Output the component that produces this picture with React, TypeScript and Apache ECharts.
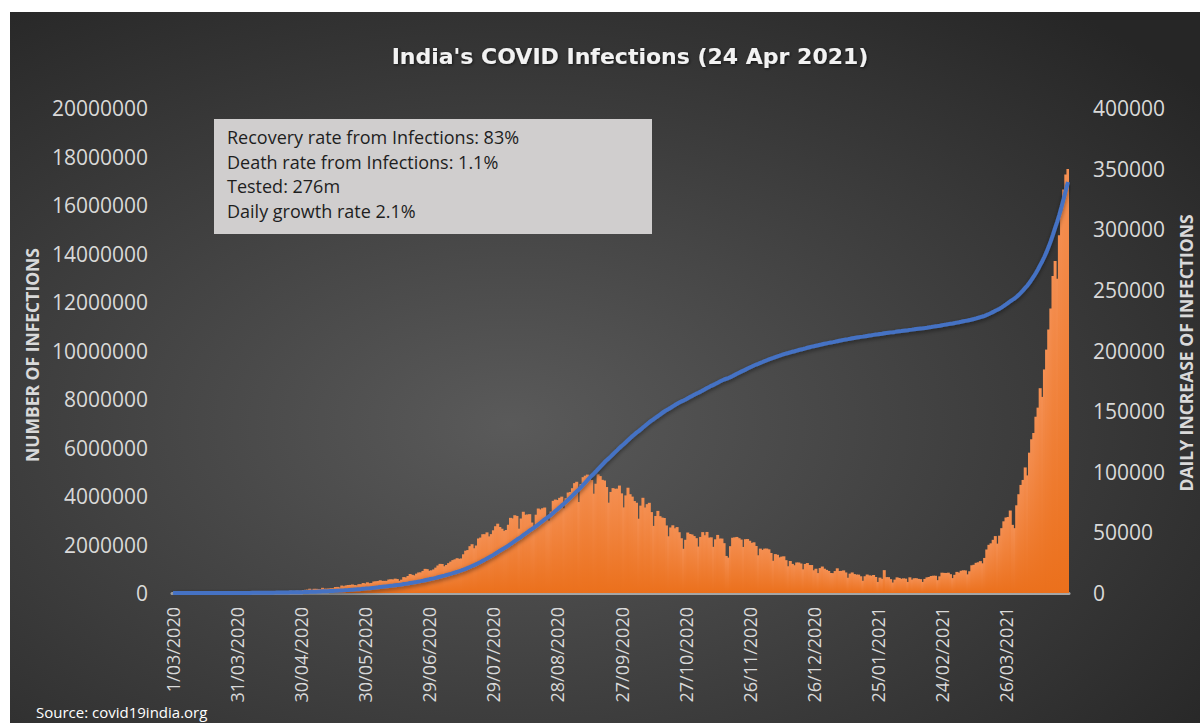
import React, { useEffect, useRef } from "react";
import * as echarts from "echarts";

// Daily new confirmed cases (right axis)
const mar2020 = [0,2,1,22,2,1,3,5,9,15,8,10,10,12,11,20,11,34,30,57,80,74,103,69,85,125,154,111,91,221,317];
const apr2020 = [601,556,543,612,664,472,584,590,809,873,770,759,1265,1061,938,1024,1080,1363,1513,1566,1250,1374,1653,1573,1832,1587,1563,1906,1706,1813];
const may2020 = [2411,2666,2806,3533,2590,3461,3446,3338,3118,4267,3550,3605,3725,3941,3903,4936,5013,4629,6138,5603,6214,6535,6667,6996,6547,6354,7252,7246,8210,7822,8788];
const jun2020 = [8055,8200,9486,9674,9868,10487,9983,9987,9996,11109,11320,11161,11820,11495,10039,11005,13106,12839,14026,15649,14992,14534,15950,16931,17003,18185,19907,19668,18356,18684];
const jul2020 = [19428,20918,22680,24018,23939,22060,23136,24620,25866,27116,27767,28698,28171,28497,31943,34884,35423,38627,40235,36919,39158,44965,45719,48472,48467,50007,46681,48564,51719,55078,57155];
const aug2020 = [54418,53015,51211,51976,56277,61983,61543,64142,63545,53045,61345,66995,64553,64732,65022,58100,55079,64572,69673,68900,69874,70488,61749,59696,67161,75995,77059,76665,78472,79468,69921];
const sep2020 = [78169,82860,83341,86432,90600,91723,75022,89852,95529,96760,97655,94409,93215,81911,90123,97859,96424,93337,92755,87382,74493,83347,86508,85919,86052,88600,82170,70589,80500,86821];
const oct2020 = [81484,79476,75829,74442,61267,72049,78524,70496,73272,74383,66732,55342,63509,67708,63371,62212,61871,55722,46790,54044,55839,53370,54366,50129,45148,36469,43893,49881,48648,48268,46964];
const nov2020 = [45231,38310,46254,50210,47638,50356,45674,45903,38073,44281,47905,44879,44878,41100,30548,29163,38617,45576,45882,46232,45209,44059,37975,44376,44489,43082,41322,41810,38772,31118];
const dec2020 = [36604,35551,36595,36652,36011,32981,26567,32080,31521,29398,30006,30254,27071,22065,26382,24010,22890,25153,25152,24337,19556,23950,24712,23067,23068,18732,20021,16432,20549,21822,20035];
const jan2021 = [19079,18177,16504,16375,18088,20346,18139,18222,18645,16946,12584,15968,16946,15590,15158,15144,13788,10064,13823,15223,14545,14256,14849,13203,9102,12689,11666,18855,13083,13052,11427];
const feb2021 = [8635,11039,12899,12408,11713,12059,11831,9110,12923,11067,12143,12194,11649,11426,9121,11610,12881,13193,13993,14264,14199,10584,13742,16738,16577,16488,16752,15510];
const mar2021 = [12286,14989,17407,16838,18327,18711,18599,15388,17921,22854,23285,24882,25320,26291,24492,28903,35871,39726,40953,43846,46951,40715,47262,53476,59118,62258,62714,68020,56211,53480,72330];
const apr2021 = [81466,89129,93249,103558,96982,115736,126789,131968,145384,152879,168912,161736,184372,200739,217353,234692,261500,273810,259170,295041,314835,332730,345147,349691];

const casesBeforeStart = 3;
const startDate = { year: 2020, month: 3, day: 1 };

const titleText = "India's COVID Infections (24 Apr 2021)";
const leftAxisName = "NUMBER OF INFECTIONS";
const rightAxisName = "DAILY INCREASE OF INFECTIONS";
const infoLines = [
  "Recovery rate from Infections: 83%",
  "Death rate from Infections: 1.1%",
  "Tested: 276m",
  "Daily growth rate 2.1%",
];
const sourceText = "Source: covid19india.org";

const daily = [
  ...mar2020, ...apr2020, ...may2020, ...jun2020, ...jul2020, ...aug2020, ...sep2020,
  ...oct2020, ...nov2020, ...dec2020, ...jan2021, ...feb2021, ...mar2021, ...apr2021,
];

// cumulative total = running sum of the daily counts
const cumulative: number[] = [];
{
  let total = casesBeforeStart;
  for (const d of daily) {
    total += d;
    cumulative.push(total);
  }
}

// date labels, one per day, format d/mm/yyyy
const categories: string[] = daily.map((_, i) => {
  const dt = new Date(Date.UTC(startDate.year, startDate.month - 1, startDate.day + i));
  const d = dt.getUTCDate();
  const m = String(dt.getUTCMonth() + 1).padStart(2, "0");
  return `${d}/${m}/${dt.getUTCFullYear()}`;
});

const FONT = "'Open Sans', 'Noto Sans', sans-serif";
const plain = (v: number) => String(v);

export default function App() {
  const ref = useRef<HTMLDivElement>(null);
  useEffect(() => {
    if (!ref.current) return;
    const chart = echarts.init(ref.current, undefined, { renderer: "svg" });
    chart.setOption({
      animation: false,
      backgroundColor: {
        type: "radial",
        x: 0.42,
        y: 0.58,
        r: 0.75,
        colorStops: [
          { offset: 0, color: "#5a5a5a" },
          { offset: 1, color: "#262626" },
        ],
      },
      grid: { left: 162, right: 131, top: 96, bottom: 130, containLabel: false },
      xAxis: {
        type: "category",
        data: categories,
        boundaryGap: true,
        axisLine: { show: true, lineStyle: { color: "#a6a6a6", width: 3 } },
        axisTick: { show: false },
        splitLine: { show: false },
        axisLabel: {
          interval: 29,
          rotate: 90,
          color: "#d9d9d9",
          fontSize: 18,
          fontFamily: FONT,
          margin: 14,
        },
      },
      yAxis: [
        {
          type: "value",
          min: 0,
          max: 20000000,
          interval: 2000000,
          splitLine: { show: false },
          axisLine: { show: false },
          axisTick: { show: false },
          axisLabel: { color: "#d9d9d9", fontSize: 21, fontFamily: FONT, margin: 24, formatter: plain },
        },
        {
          type: "value",
          position: "right",
          min: 0,
          max: 400000,
          interval: 50000,
          splitLine: { show: false },
          axisLine: { show: false },
          axisTick: { show: false },
          axisLabel: { color: "#d9d9d9", fontSize: 21, fontFamily: FONT, margin: 24, formatter: plain },
        },
      ],
      series: [
        {
          type: "bar",
          yAxisIndex: 1,
          data: daily,
          barWidth: 3,
          barGap: "-100%",
          itemStyle: {
            color: {
              type: "linear",
              x: 0,
              y: 0,
              x2: 0,
              y2: 1,
              colorStops: [
                { offset: 0, color: "#f48f52" },
                { offset: 1, color: "#eb701c" },
              ],
            },
          },
          z: 2,
        },
        {
          type: "line",
          yAxisIndex: 0,
          data: cumulative,
          showSymbol: false,
          symbol: "none",
          lineStyle: {
            color: "#4472c4",
            width: 4,
            shadowColor: "rgba(0,0,0,0.45)",
            shadowBlur: 4,
            shadowOffsetY: 2,
          },
          z: 3,
        },
      ],
      graphic: [
        {
          type: "text",
          x: 620,
          y: 44,
          style: {
            text: titleText,
            fill: "#f2f2f2",
            font: `bold 22px 'DejaVu Sans', sans-serif`,
            textAlign: "center",
            textVerticalAlign: "middle",
            align: "center",
            verticalAlign: "middle",
            textShadowColor: "rgba(0,0,0,0.6)",
            textShadowBlur: 3,
            textShadowOffsetX: 1,
            textShadowOffsetY: 1,
          },
        },
        {
          type: "rect",
          shape: { x: 204, y: 107, width: 438, height: 115 },
          style: { fill: "#d0cece" },
        },
        {
          type: "text",
          x: 217,
          y: 113,
          style: {
            text: infoLines.join("\n"),
            fill: "#1e1e1e",
            font: `18px ${FONT}`,
            lineHeight: 24.5,
            textAlign: "left",
            align: "left",
            textVerticalAlign: "top",
            verticalAlign: "top",
          },
        },
        {
          type: "text",
          x: 22,
          y: 343,
          rotation: Math.PI / 2,
          style: {
            text: leftAxisName,
            fill: "#d9d9d9",
            font: `bold 17.5px ${FONT}`,
            textAlign: "center",
            align: "center",
            textVerticalAlign: "middle",
            verticalAlign: "middle",
          },
        },
        {
          type: "text",
          x: 1176,
          y: 341,
          rotation: Math.PI / 2,
          style: {
            text: rightAxisName,
            fill: "#d9d9d9",
            font: `bold 17.5px ${FONT}`,
            textAlign: "center",
            align: "center",
            textVerticalAlign: "middle",
            verticalAlign: "middle",
          },
        },
        {
          type: "text",
          x: 26,
          y: 700,
          style: {
            text: sourceText,
            fill: "#ffffff",
            font: `15px ${FONT}`,
            textAlign: "left",
            align: "left",
            textVerticalAlign: "middle",
            verticalAlign: "middle",
          },
        },
      ],
    });
    return () => chart.dispose();
  }, []);
  return (
    <div
      ref={ref}
      style={{ position: "absolute", left: 10, top: 12, width: 1190, height: 711 }}
    />
  );
}
